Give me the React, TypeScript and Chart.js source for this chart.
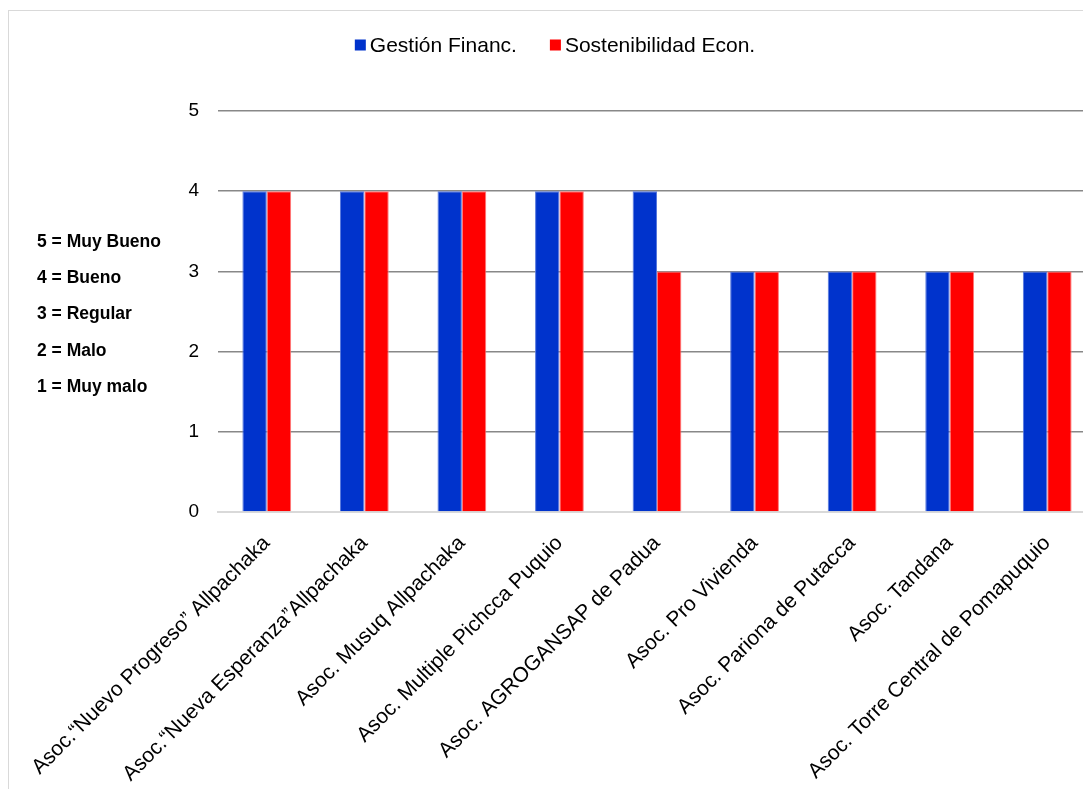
import React, { useEffect, useRef } from "react";
import { Chart, registerables } from "chart.js";

Chart.register(...registerables);

const categories = [
  "Asoc.“Nuevo Progreso” Allpachaka",
  "Asoc.“Nueva Esperanza”Allpachaka",
  "Asoc. Musuq Allpachaka",
  "Asoc. Multiple Pichcca Puquio",
  "Asoc. AGROGANSAP de Padua",
  "Asoc. Pro Vivienda",
  "Asoc. Pariona de Putacca",
  "Asoc. Tandana",
  "Asoc. Torre Central de Pomapuquio",
];
const gestionFinanc = [4, 4, 4, 4, 4, 3, 3, 3, 3];
const sostenibilidadEcon = [4, 4, 4, 4, 3, 3, 3, 3, 3];
const seriesNames = ["Gestión Financ.", "Sostenibilidad Econ."];
const yTicks = [0, 1, 2, 3, 4, 5];
const scaleNotes = ["5 = Muy Bueno", "4 = Bueno", "3 = Regular", "2 = Malo", "1 = Muy malo"];

const FONT = "'Liberation Sans', Arial, sans-serif";

const overlayPlugin = {
  id: "overlay",
  afterDraw(chart: any) {
    const ctx = chart.ctx as CanvasRenderingContext2D;
    ctx.save();
    // legend
    ctx.font = `21px ${FONT}`;
    ctx.textBaseline = "middle";
    ctx.textAlign = "left";
    const items = chart.data.datasets.map((d: any) => ({
      label: d.label,
      color: d.backgroundColor,
      w: ctx.measureText(d.label).width,
    }));
    const box = 11;
    const gapText = 4;
    const gapItem = 33;
    let total = 0;
    items.forEach((it: any, i: number) => {
      total += box + gapText + it.w + (i < items.length - 1 ? gapItem : 0);
    });
    let x = 546 - total / 2;
    const cy = 34;
    items.forEach((it: any) => {
      ctx.fillStyle = it.color;
      ctx.fillRect(x, cy - box / 2, box, box);
      x += box + gapText;
      ctx.fillStyle = "#000";
      ctx.fillText(it.label, x, cy + 1);
      x += it.w + gapItem;
    });
    // scale notes
    ctx.font = `bold 17.5px ${FONT}`;
    ctx.fillStyle = "#000";
    scaleNotes.forEach((t, i) => {
      ctx.fillText(t, 28, 231 + i * 36.3);
    });
    ctx.restore();
  },
};

export default function App() {
  const ref = useRef<HTMLCanvasElement>(null);
  useEffect(() => {
    if (!ref.current) return;
    const chart = new Chart(ref.current, {
      type: "bar",
      data: {
        labels: categories,
        datasets: [
          {
            label: seriesNames[0],
            data: gestionFinanc,
            backgroundColor: "#0033CC",
            borderColor: "#5577dd",
            borderWidth: 1,
            categoryPercentage: 0.5,
            barPercentage: 1,
          },
          {
            label: seriesNames[1],
            data: sostenibilidadEcon,
            backgroundColor: "#FF0000",
            borderColor: "#ff7777",
            borderWidth: 1,
            categoryPercentage: 0.5,
            barPercentage: 1,
          },
        ],
      },
      options: {
        animation: false,
        responsive: false,
        maintainAspectRatio: false,
        layout: { padding: { top: 100, right: 13, bottom: 0, left: 0 } },
        plugins: {
          legend: { display: false },
          tooltip: { enabled: false },
        },
        scales: {
          x: {
            grid: { display: false },
            border: { display: true, color: "#d9d9d9", width: 2 },
            ticks: {
              autoSkip: false,
              minRotation: 45,
              maxRotation: 45,
              padding: 11,
              color: "#000",
              font: { family: FONT, size: 21 },
            },
            afterFit: (s: any) => {
              s.height = 279;
            },
          },
          y: {
            min: 0,
            max: 5,
            afterBuildTicks: (s: any) => {
              s.ticks = yTicks.map((v) => ({ value: v }));
            },
            border: { display: false },
            grid: {
              drawTicks: false,
              lineWidth: 1.5,
              color: (c: any) => (c.tick && c.tick.value === 0 ? "rgba(0,0,0,0)" : "#888888"),
            },
            ticks: {
              padding: 19,
              color: "#000",
              font: { family: FONT, size: 19 },
            },
            afterFit: (s: any) => {
              s.width = 209;
            },
          },
        },
      },
      plugins: [overlayPlugin],
    });
    return () => chart.destroy();
  }, []);

  return (
    <div style={{ position: "fixed", left: 0, top: 0, width: 1083, height: 789, overflow: "hidden", background: "#fff" }}>
      <div
        style={{
          position: "absolute",
          left: 8,
          top: 10,
          width: 1100,
          height: 800,
          borderLeft: "1px solid #d9d9d9",
          borderTop: "1px solid #d9d9d9",
        }}
      >
        <canvas ref={ref} width={1100} height={780} style={{ display: "block", width: 1100, height: 780 }} />
      </div>
    </div>
  );
}
